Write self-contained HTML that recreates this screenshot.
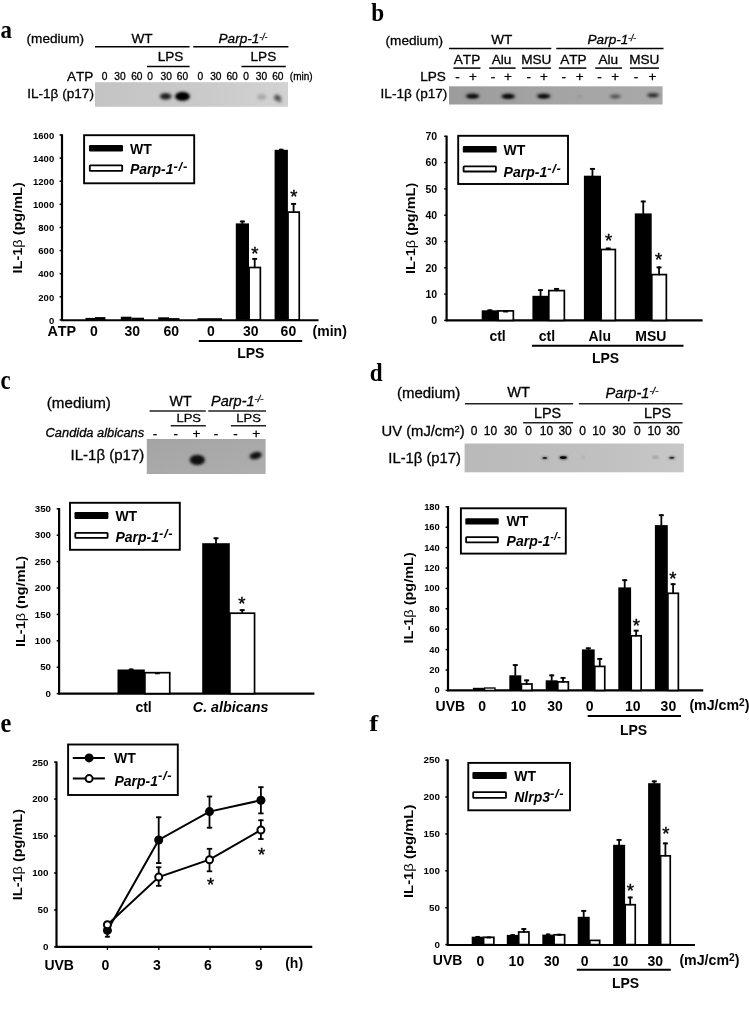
<!DOCTYPE html>
<html lang="en"><head><meta charset="utf-8"><title>Figure</title>
<style>
html,body{margin:0;padding:0;background:#fff;}
body{width:749px;height:1012px;overflow:hidden;}
svg{display:block;will-change:transform;font-family:"Liberation Sans",Arial,sans-serif;}
svg text{fill:#000;font-kerning:none;}
svg text.lab{font-family:"Liberation Serif","Times New Roman",serif;}
</style></head><body>
<svg width="749" height="1012" viewBox="0 0 749 1012">
<defs>
<filter id="b1" x="-50%" y="-50%" width="200%" height="200%"><feGaussianBlur stdDeviation="1.1"/></filter>
<filter id="b2" x="-50%" y="-50%" width="200%" height="200%"><feGaussianBlur stdDeviation="1.8"/></filter>
<linearGradient id="ga" x1="0" y1="0" x2="1" y2="0"><stop offset="0" stop-color="#c4c4c4"/><stop offset="0.5" stop-color="#c9c9c9"/><stop offset="1" stop-color="#d2d2d2"/></linearGradient>
<linearGradient id="gb" x1="0" y1="0" x2="1" y2="0"><stop offset="0" stop-color="#9c9c9c"/><stop offset="0.5" stop-color="#a4a4a4"/><stop offset="1" stop-color="#a9a9a9"/></linearGradient>
<linearGradient id="gc" x1="0" y1="0" x2="1" y2="1"><stop offset="0" stop-color="#a4a4a4"/><stop offset="1" stop-color="#aeaeae"/></linearGradient>
<linearGradient id="gd" x1="0" y1="0" x2="1" y2="0"><stop offset="0" stop-color="#b9b9b9"/><stop offset="0.6" stop-color="#c0c0c0"/><stop offset="1" stop-color="#c7c7c7"/></linearGradient>
<filter id="b0" x="-50%" y="-50%" width="200%" height="200%"><feGaussianBlur stdDeviation="0.6"/></filter>
</defs>
<rect x="0" y="0" width="749" height="1012" fill="#fff"/>

<text transform="translate(0.40,38.20) scale(0.88,1)" class="lab" style="font-size:26px;font-weight:bold;">a</text>
<text transform="translate(371.20,21.20) scale(0.96,1)" class="lab" style="font-size:24.2px;font-weight:bold;">b</text>
<text transform="translate(0.60,389.30) scale(0.86,1)" class="lab" style="font-size:26.5px;font-weight:bold;">c</text>
<text transform="translate(369.80,381.30) scale(0.94,1)" class="lab" style="font-size:24.6px;font-weight:bold;">d</text>
<text transform="translate(0.50,731.70) scale(0.92,1)" class="lab" style="font-size:26.6px;font-weight:bold;">e</text>
<text transform="translate(369.20,730.70) scale(1.14,1)" class="lab" style="font-size:23.7px;font-weight:bold;">f</text>
<g id="panel-a">
<text x="26.60" y="43.00" style="font-size:13.6px;"  stroke="#000" stroke-width="0.3">(medium)</text>
<text x="142.00" y="42.90" text-anchor="middle" style="font-size:13.6px;"  stroke="#000" stroke-width="0.3">WT</text>
<text x="243.00" y="43.00" text-anchor="middle" style="font-size:13.6px;font-style:italic;"  stroke="#000" stroke-width="0.3">Parp-1<tspan dy="-3.4" style="font-size:8.6px;">-/-</tspan></text>
<line x1="95.00" y1="46.80" x2="189.60" y2="46.80" stroke="#000" stroke-width="1.5" stroke-linecap="butt"/>
<line x1="193.20" y1="46.80" x2="288.40" y2="46.80" stroke="#000" stroke-width="1.5" stroke-linecap="butt"/>
<text x="170.60" y="61.30" text-anchor="middle" style="font-size:13.6px;"  stroke="#000" stroke-width="0.3">LPS</text>
<text x="263.40" y="61.30" text-anchor="middle" style="font-size:13.6px;"  stroke="#000" stroke-width="0.3">LPS</text>
<line x1="147.00" y1="66.50" x2="189.60" y2="66.50" stroke="#000" stroke-width="1.5" stroke-linecap="butt"/>
<line x1="241.50" y1="66.50" x2="285.80" y2="66.50" stroke="#000" stroke-width="1.5" stroke-linecap="butt"/>
<text x="93.40" y="80.60" text-anchor="end" style="font-size:13.6px;"  stroke="#000" stroke-width="0.3">ATP</text>
<text x="104.50" y="79.50" text-anchor="middle" style="font-size:10.2px;"  stroke="#000" stroke-width="0.3">0</text>
<text x="119.90" y="79.50" text-anchor="middle" style="font-size:10.2px;"  stroke="#000" stroke-width="0.3">30</text>
<text x="136.80" y="79.50" text-anchor="middle" style="font-size:10.2px;"  stroke="#000" stroke-width="0.3">60</text>
<text x="150.20" y="79.50" text-anchor="middle" style="font-size:10.2px;"  stroke="#000" stroke-width="0.3">0</text>
<text x="166.20" y="79.50" text-anchor="middle" style="font-size:10.2px;"  stroke="#000" stroke-width="0.3">30</text>
<text x="182.50" y="79.50" text-anchor="middle" style="font-size:10.2px;"  stroke="#000" stroke-width="0.3">60</text>
<text x="200.40" y="79.50" text-anchor="middle" style="font-size:10.2px;"  stroke="#000" stroke-width="0.3">0</text>
<text x="215.80" y="79.50" text-anchor="middle" style="font-size:10.2px;"  stroke="#000" stroke-width="0.3">30</text>
<text x="232.10" y="79.50" text-anchor="middle" style="font-size:10.2px;"  stroke="#000" stroke-width="0.3">60</text>
<text x="246.10" y="79.50" text-anchor="middle" style="font-size:10.2px;"  stroke="#000" stroke-width="0.3">0</text>
<text x="261.50" y="79.50" text-anchor="middle" style="font-size:10.2px;"  stroke="#000" stroke-width="0.3">30</text>
<text x="277.80" y="79.50" text-anchor="middle" style="font-size:10.2px;"  stroke="#000" stroke-width="0.3">60</text>
<text x="289.80" y="79.60" style="font-size:10px;"  stroke="#000" stroke-width="0.3">(min)</text>
<rect x="95.00" y="82.20" width="193.00" height="24.60" fill="url(#ga)" stroke="none" stroke-width="1" rx="0" />
<ellipse cx="165.70" cy="96.40" rx="6.00" ry="3.40" fill="#000" opacity="0.75" filter="url(#b2)"/>
<ellipse cx="165.50" cy="96.20" rx="3.40" ry="1.60" fill="#000" opacity="0.45" filter="url(#b1)"/>
<ellipse cx="182.50" cy="96.40" rx="7.40" ry="4.40" fill="#000" opacity="1.0" filter="url(#b2)"/>
<ellipse cx="182.50" cy="96.20" rx="5.60" ry="2.80" fill="#000" opacity="0.95" filter="url(#b1)"/>
<ellipse cx="261.60" cy="97.00" rx="4.40" ry="2.80" fill="#000" opacity="0.2" filter="url(#b2)"/>
<ellipse cx="277.60" cy="98.00" rx="3.80" ry="3.00" fill="#000" opacity="0.6" filter="url(#b2)" transform="rotate(30 277.6 98.0)"/>
<ellipse cx="280.20" cy="101.50" rx="2.20" ry="1.60" fill="#000" opacity="0.22" filter="url(#b2)"/>
<text x="27.20" y="98.00" style="font-size:13.6px;"  stroke="#000" stroke-width="0.3">IL-1β (p17)</text>
<line x1="62.00" y1="134.30" x2="62.00" y2="320.70" stroke="#000" stroke-width="2.2" stroke-linecap="butt"/>
<line x1="59.60" y1="135.00" x2="62.00" y2="135.00" stroke="#000" stroke-width="1.5" stroke-linecap="butt"/>
<text x="54.20" y="138.72" text-anchor="end" style="font-size:9.5px;font-weight:bold;" >1600</text>
<line x1="59.60" y1="158.11" x2="62.00" y2="158.11" stroke="#000" stroke-width="1.5" stroke-linecap="butt"/>
<text x="54.20" y="161.83" text-anchor="end" style="font-size:9.5px;font-weight:bold;" >1400</text>
<line x1="59.60" y1="181.22" x2="62.00" y2="181.22" stroke="#000" stroke-width="1.5" stroke-linecap="butt"/>
<text x="54.20" y="184.94" text-anchor="end" style="font-size:9.5px;font-weight:bold;" >1200</text>
<line x1="59.60" y1="204.34" x2="62.00" y2="204.34" stroke="#000" stroke-width="1.5" stroke-linecap="butt"/>
<text x="54.20" y="208.06" text-anchor="end" style="font-size:9.5px;font-weight:bold;" >1000</text>
<line x1="59.60" y1="227.45" x2="62.00" y2="227.45" stroke="#000" stroke-width="1.5" stroke-linecap="butt"/>
<text x="54.20" y="231.17" text-anchor="end" style="font-size:9.5px;font-weight:bold;" >800</text>
<line x1="59.60" y1="250.56" x2="62.00" y2="250.56" stroke="#000" stroke-width="1.5" stroke-linecap="butt"/>
<text x="54.20" y="254.28" text-anchor="end" style="font-size:9.5px;font-weight:bold;" >600</text>
<line x1="59.60" y1="273.67" x2="62.00" y2="273.67" stroke="#000" stroke-width="1.5" stroke-linecap="butt"/>
<text x="54.20" y="277.39" text-anchor="end" style="font-size:9.5px;font-weight:bold;" >400</text>
<line x1="59.60" y1="296.79" x2="62.00" y2="296.79" stroke="#000" stroke-width="1.5" stroke-linecap="butt"/>
<text x="54.20" y="300.51" text-anchor="end" style="font-size:9.5px;font-weight:bold;" >200</text>
<line x1="59.60" y1="319.90" x2="62.00" y2="319.90" stroke="#000" stroke-width="1.5" stroke-linecap="butt"/>
<text x="54.20" y="323.62" text-anchor="end" style="font-size:9.5px;font-weight:bold;" >0</text>
<line x1="61.20" y1="320.30" x2="318.60" y2="320.30" stroke="#000" stroke-width="2.1" stroke-linecap="butt"/>
<text transform="translate(22.00,273.40) rotate(-90) scale(1.115,1)" style="font-size:13px;font-weight:bold;">IL-1<tspan style="font-weight:normal">β</tspan> (pg/mL)</text>
<rect x="84.10" y="135.20" width="110.10" height="48.10" fill="#fff" stroke="#000" stroke-width="1.9" rx="0" />
<rect x="89.00" y="145.00" width="34.00" height="6.40" fill="#000" stroke="none" stroke-width="1" rx="1.2" />
<rect x="89.80" y="165.40" width="32.40" height="5.40" fill="#fff" stroke="#000" stroke-width="1.8" rx="0.6" />
<text x="130.00" y="153.50" style="font-size:14px;font-weight:bold;" >WT</text>
<text x="130.00" y="174.40" style="font-size:14px;font-weight:bold;font-style:italic;" >Parp-1<tspan dy="-3.6" style="font-size:13px;letter-spacing:0.7px;">-/-</tspan></text>
<rect x="85.50" y="317.90" width="9.50" height="2.00" fill="#000" stroke="none" stroke-width="1" rx="0" />
<rect x="95.00" y="317.10" width="10.40" height="2.80" fill="#000" stroke="none" stroke-width="1" rx="0" />
<rect x="120.80" y="316.70" width="10.70" height="3.20" fill="#000" stroke="none" stroke-width="1" rx="0" />
<rect x="131.50" y="317.70" width="12.50" height="2.20" fill="#000" stroke="none" stroke-width="1" rx="0" />
<rect x="158.20" y="317.30" width="10.80" height="2.60" fill="#000" stroke="none" stroke-width="1" rx="0" />
<rect x="169.00" y="318.10" width="10.50" height="1.80" fill="#000" stroke="none" stroke-width="1" rx="0" />
<rect x="197.50" y="318.20" width="24.50" height="1.70" fill="#000" stroke="none" stroke-width="1" rx="0" />
<rect x="235.80" y="223.40" width="13.20" height="96.50" fill="#000" stroke="none" stroke-width="1" rx="0" />
<line x1="242.40" y1="220.60" x2="242.40" y2="223.90" stroke="#000" stroke-width="1.8" stroke-linecap="butt"/>
<line x1="239.90" y1="221.50" x2="244.90" y2="221.50" stroke="#000" stroke-width="1.9" stroke-linecap="butt"/>
<rect x="249.10" y="267.50" width="11.25" height="52.40" fill="#fff" stroke="#000" stroke-width="1.7" rx="0" />
<line x1="254.70" y1="258.00" x2="254.70" y2="268.10" stroke="#000" stroke-width="1.8" stroke-linecap="butt"/>
<line x1="252.20" y1="258.90" x2="257.20" y2="258.90" stroke="#000" stroke-width="1.9" stroke-linecap="butt"/>
<rect x="274.60" y="149.80" width="13.30" height="170.10" fill="#000" stroke="none" stroke-width="1" rx="0" />
<line x1="281.25" y1="148.80" x2="281.25" y2="150.30" stroke="#000" stroke-width="1.8" stroke-linecap="butt"/>
<line x1="279.05" y1="149.70" x2="283.45" y2="149.70" stroke="#000" stroke-width="1.9" stroke-linecap="butt"/>
<rect x="288.00" y="212.10" width="11.25" height="107.80" fill="#fff" stroke="#000" stroke-width="1.7" rx="0" />
<line x1="293.60" y1="203.00" x2="293.60" y2="212.70" stroke="#000" stroke-width="1.8" stroke-linecap="butt"/>
<line x1="291.10" y1="203.90" x2="296.10" y2="203.90" stroke="#000" stroke-width="1.9" stroke-linecap="butt"/>
<text x="254.80" y="259.80" text-anchor="middle" style="font-size:18.5px;" stroke="#000" stroke-width="0.4">*</text>
<text x="293.80" y="202.51" text-anchor="middle" style="font-size:18.5px;" stroke="#000" stroke-width="0.4">*</text>
<text x="47.40" y="335.90" style="font-size:14.4px;font-weight:bold;" >ATP</text>
<text x="94.00" y="336.00" text-anchor="middle" style="font-size:14px;font-weight:bold;" >0</text>
<text x="132.30" y="336.00" text-anchor="middle" style="font-size:14px;font-weight:bold;" >30</text>
<text x="171.20" y="336.00" text-anchor="middle" style="font-size:14px;font-weight:bold;" >60</text>
<text x="210.90" y="336.00" text-anchor="middle" style="font-size:14px;font-weight:bold;" >0</text>
<text x="250.80" y="336.00" text-anchor="middle" style="font-size:14px;font-weight:bold;" >30</text>
<text x="288.40" y="336.00" text-anchor="middle" style="font-size:14px;font-weight:bold;" >60</text>
<text x="312.60" y="336.00" style="font-size:14px;font-weight:bold;" >(min)</text>
<line x1="198.80" y1="340.90" x2="302.20" y2="340.90" stroke="#000" stroke-width="2.0" stroke-linecap="butt"/>
<text x="250.80" y="357.60" text-anchor="middle" style="font-size:14px;font-weight:bold;" >LPS</text>
</g>
<g id="panel-b">
<text x="385.60" y="44.50" style="font-size:13.6px;"  stroke="#000" stroke-width="0.3">(medium)</text>
<text x="501.80" y="43.80" text-anchor="middle" style="font-size:13.6px;"  stroke="#000" stroke-width="0.3">WT</text>
<text x="611.80" y="44.00" text-anchor="middle" style="font-size:13.6px;font-style:italic;"  stroke="#000" stroke-width="0.3">Parp-1<tspan dy="-3.2" style="font-size:8.2px;">-/-</tspan></text>
<line x1="449.00" y1="48.60" x2="551.30" y2="48.60" stroke="#000" stroke-width="1.5" stroke-linecap="butt"/>
<line x1="556.30" y1="48.60" x2="663.50" y2="48.60" stroke="#000" stroke-width="1.5" stroke-linecap="butt"/>
<text x="467.00" y="64.10" text-anchor="middle" style="font-size:13.6px;"  stroke="#000" stroke-width="0.3">ATP</text>
<line x1="453.40" y1="68.10" x2="480.50" y2="68.10" stroke="#000" stroke-width="1.5" stroke-linecap="butt"/>
<text x="501.60" y="64.10" text-anchor="middle" style="font-size:13.6px;"  stroke="#000" stroke-width="0.3">Alu</text>
<line x1="489.20" y1="68.10" x2="515.60" y2="68.10" stroke="#000" stroke-width="1.5" stroke-linecap="butt"/>
<text x="536.30" y="64.10" text-anchor="middle" style="font-size:13.6px;"  stroke="#000" stroke-width="0.3">MSU</text>
<line x1="521.90" y1="68.10" x2="550.90" y2="68.10" stroke="#000" stroke-width="1.5" stroke-linecap="butt"/>
<text x="573.40" y="64.10" text-anchor="middle" style="font-size:13.6px;"  stroke="#000" stroke-width="0.3">ATP</text>
<line x1="558.80" y1="68.10" x2="586.40" y2="68.10" stroke="#000" stroke-width="1.5" stroke-linecap="butt"/>
<text x="608.30" y="64.10" text-anchor="middle" style="font-size:13.6px;"  stroke="#000" stroke-width="0.3">Alu</text>
<line x1="595.20" y1="68.10" x2="622.00" y2="68.10" stroke="#000" stroke-width="1.5" stroke-linecap="butt"/>
<text x="644.30" y="64.10" text-anchor="middle" style="font-size:13.6px;"  stroke="#000" stroke-width="0.3">MSU</text>
<line x1="629.90" y1="68.10" x2="658.90" y2="68.10" stroke="#000" stroke-width="1.5" stroke-linecap="butt"/>
<text x="445.90" y="80.90" text-anchor="end" style="font-size:13.6px;"  stroke="#000" stroke-width="0.3">LPS</text>
<text x="457.40" y="81.10" text-anchor="middle" style="font-size:13.5px;"  stroke="#000" stroke-width="0.3">-</text>
<text x="472.90" y="81.10" text-anchor="middle" style="font-size:13.5px;"  stroke="#000" stroke-width="0.3">+</text>
<text x="493.00" y="81.10" text-anchor="middle" style="font-size:13.5px;"  stroke="#000" stroke-width="0.3">-</text>
<text x="508.00" y="81.10" text-anchor="middle" style="font-size:13.5px;"  stroke="#000" stroke-width="0.3">+</text>
<text x="528.70" y="81.10" text-anchor="middle" style="font-size:13.5px;"  stroke="#000" stroke-width="0.3">-</text>
<text x="544.00" y="81.10" text-anchor="middle" style="font-size:13.5px;"  stroke="#000" stroke-width="0.3">+</text>
<text x="563.80" y="81.10" text-anchor="middle" style="font-size:13.5px;"  stroke="#000" stroke-width="0.3">-</text>
<text x="579.70" y="81.10" text-anchor="middle" style="font-size:13.5px;"  stroke="#000" stroke-width="0.3">+</text>
<text x="599.50" y="81.10" text-anchor="middle" style="font-size:13.5px;"  stroke="#000" stroke-width="0.3">-</text>
<text x="615.30" y="81.10" text-anchor="middle" style="font-size:13.5px;"  stroke="#000" stroke-width="0.3">+</text>
<text x="636.10" y="81.10" text-anchor="middle" style="font-size:13.5px;"  stroke="#000" stroke-width="0.3">-</text>
<text x="652.40" y="81.10" text-anchor="middle" style="font-size:13.5px;"  stroke="#000" stroke-width="0.3">+</text>
<rect x="449.00" y="86.30" width="213.60" height="18.20" fill="url(#gb)" stroke="none" stroke-width="1" rx="0" />
<ellipse cx="472.60" cy="96.00" rx="7.40" ry="2.80" fill="#000" opacity="0.55" filter="url(#b2)"/>
<ellipse cx="472.60" cy="96.20" rx="5.60" ry="1.80" fill="#000" opacity="0.9" filter="url(#b1)"/>
<ellipse cx="508.20" cy="96.20" rx="7.40" ry="2.80" fill="#000" opacity="0.6" filter="url(#b2)"/>
<ellipse cx="508.20" cy="96.40" rx="5.60" ry="1.80" fill="#000" opacity="0.92" filter="url(#b1)"/>
<ellipse cx="543.70" cy="96.00" rx="7.40" ry="2.80" fill="#000" opacity="0.55" filter="url(#b2)"/>
<ellipse cx="543.70" cy="96.20" rx="5.60" ry="1.80" fill="#000" opacity="0.9" filter="url(#b1)"/>
<ellipse cx="579.70" cy="96.40" rx="4.00" ry="1.50" fill="#000" opacity="0.07" filter="url(#b1)"/>
<ellipse cx="615.30" cy="96.40" rx="6.00" ry="2.40" fill="#000" opacity="0.3" filter="url(#b2)"/>
<ellipse cx="615.30" cy="96.60" rx="4.40" ry="1.40" fill="#000" opacity="0.3" filter="url(#b1)"/>
<ellipse cx="653.00" cy="95.20" rx="6.40" ry="2.60" fill="#000" opacity="0.42" filter="url(#b2)"/>
<ellipse cx="653.00" cy="95.20" rx="4.60" ry="1.50" fill="#000" opacity="0.55" filter="url(#b1)"/>
<text x="380.60" y="98.40" style="font-size:13.6px;"  stroke="#000" stroke-width="0.3">IL-1β (p17)</text>
<line x1="446.60" y1="135.60" x2="446.60" y2="321.20" stroke="#000" stroke-width="2.2" stroke-linecap="butt"/>
<line x1="444.20" y1="136.30" x2="446.60" y2="136.30" stroke="#000" stroke-width="1.5" stroke-linecap="butt"/>
<text x="437.20" y="140.18" text-anchor="end" style="font-size:10.5px;font-weight:bold;" >70</text>
<line x1="444.20" y1="162.60" x2="446.60" y2="162.60" stroke="#000" stroke-width="1.5" stroke-linecap="butt"/>
<text x="437.20" y="166.48" text-anchor="end" style="font-size:10.5px;font-weight:bold;" >60</text>
<line x1="444.20" y1="188.90" x2="446.60" y2="188.90" stroke="#000" stroke-width="1.5" stroke-linecap="butt"/>
<text x="437.20" y="192.78" text-anchor="end" style="font-size:10.5px;font-weight:bold;" >50</text>
<line x1="444.20" y1="215.20" x2="446.60" y2="215.20" stroke="#000" stroke-width="1.5" stroke-linecap="butt"/>
<text x="437.20" y="219.08" text-anchor="end" style="font-size:10.5px;font-weight:bold;" >40</text>
<line x1="444.20" y1="241.50" x2="446.60" y2="241.50" stroke="#000" stroke-width="1.5" stroke-linecap="butt"/>
<text x="437.20" y="245.38" text-anchor="end" style="font-size:10.5px;font-weight:bold;" >30</text>
<line x1="444.20" y1="267.80" x2="446.60" y2="267.80" stroke="#000" stroke-width="1.5" stroke-linecap="butt"/>
<text x="437.20" y="271.68" text-anchor="end" style="font-size:10.5px;font-weight:bold;" >20</text>
<line x1="444.20" y1="294.10" x2="446.60" y2="294.10" stroke="#000" stroke-width="1.5" stroke-linecap="butt"/>
<text x="437.20" y="297.98" text-anchor="end" style="font-size:10.5px;font-weight:bold;" >10</text>
<line x1="444.20" y1="320.40" x2="446.60" y2="320.40" stroke="#000" stroke-width="1.5" stroke-linecap="butt"/>
<text x="437.20" y="324.28" text-anchor="end" style="font-size:10.5px;font-weight:bold;" >0</text>
<line x1="445.80" y1="320.40" x2="702.60" y2="320.40" stroke="#000" stroke-width="2.1" stroke-linecap="butt"/>
<text transform="translate(414.70,273.90) rotate(-90) scale(1.115,1)" style="font-size:13px;font-weight:bold;">IL-1<tspan style="font-weight:normal">β</tspan> (pg/mL)</text>
<rect x="458.20" y="135.80" width="109.80" height="48.20" fill="#fff" stroke="#000" stroke-width="1.9" rx="0" />
<rect x="462.80" y="145.90" width="33.90" height="6.70" fill="#000" stroke="none" stroke-width="1" rx="1.2" />
<rect x="463.60" y="166.30" width="32.30" height="5.20" fill="#fff" stroke="#000" stroke-width="1.8" rx="0.6" />
<text x="503.60" y="154.50" style="font-size:14px;font-weight:bold;" >WT</text>
<text x="503.60" y="176.60" style="font-size:14px;font-weight:bold;font-style:italic;" >Parp-1<tspan dy="-3.6" style="font-size:13px;letter-spacing:0.7px;">-/-</tspan></text>
<rect x="481.70" y="310.30" width="16.30" height="10.10" fill="#000" stroke="none" stroke-width="1" rx="0" />
<line x1="489.85" y1="309.40" x2="489.85" y2="310.80" stroke="#000" stroke-width="1.8" stroke-linecap="butt"/>
<line x1="487.35" y1="310.30" x2="492.35" y2="310.30" stroke="#000" stroke-width="1.9" stroke-linecap="butt"/>
<rect x="498.10" y="310.90" width="15.25" height="9.50" fill="#fff" stroke="#000" stroke-width="1.7" rx="0" />
<line x1="505.70" y1="310.60" x2="505.70" y2="311.50" stroke="#000" stroke-width="1.8" stroke-linecap="butt"/>
<line x1="503.20" y1="311.50" x2="508.20" y2="311.50" stroke="#000" stroke-width="1.9" stroke-linecap="butt"/>
<rect x="532.40" y="295.80" width="16.30" height="24.60" fill="#000" stroke="none" stroke-width="1" rx="0" />
<line x1="540.55" y1="289.20" x2="540.55" y2="296.30" stroke="#000" stroke-width="1.8" stroke-linecap="butt"/>
<line x1="538.05" y1="290.10" x2="543.05" y2="290.10" stroke="#000" stroke-width="1.9" stroke-linecap="butt"/>
<rect x="548.80" y="290.60" width="15.55" height="29.80" fill="#fff" stroke="#000" stroke-width="1.7" rx="0" />
<line x1="556.55" y1="288.00" x2="556.55" y2="291.20" stroke="#000" stroke-width="1.8" stroke-linecap="butt"/>
<line x1="554.05" y1="288.90" x2="559.05" y2="288.90" stroke="#000" stroke-width="1.9" stroke-linecap="butt"/>
<rect x="583.90" y="175.70" width="17.10" height="144.70" fill="#000" stroke="none" stroke-width="1" rx="0" />
<line x1="592.45" y1="168.00" x2="592.45" y2="176.20" stroke="#000" stroke-width="1.8" stroke-linecap="butt"/>
<line x1="589.95" y1="168.90" x2="594.95" y2="168.90" stroke="#000" stroke-width="1.9" stroke-linecap="butt"/>
<rect x="601.10" y="249.50" width="14.25" height="70.90" fill="#fff" stroke="#000" stroke-width="1.7" rx="0" />
<line x1="608.20" y1="247.60" x2="608.20" y2="250.10" stroke="#000" stroke-width="1.8" stroke-linecap="butt"/>
<line x1="605.70" y1="248.50" x2="610.70" y2="248.50" stroke="#000" stroke-width="1.9" stroke-linecap="butt"/>
<rect x="634.80" y="213.40" width="16.90" height="107.00" fill="#000" stroke="none" stroke-width="1" rx="0" />
<line x1="643.25" y1="200.60" x2="643.25" y2="213.90" stroke="#000" stroke-width="1.8" stroke-linecap="butt"/>
<line x1="640.75" y1="201.50" x2="645.75" y2="201.50" stroke="#000" stroke-width="1.9" stroke-linecap="butt"/>
<rect x="651.80" y="274.60" width="14.55" height="45.80" fill="#fff" stroke="#000" stroke-width="1.7" rx="0" />
<line x1="659.05" y1="266.50" x2="659.05" y2="275.20" stroke="#000" stroke-width="1.8" stroke-linecap="butt"/>
<line x1="656.55" y1="267.40" x2="661.55" y2="267.40" stroke="#000" stroke-width="1.9" stroke-linecap="butt"/>
<text x="608.50" y="246.71" text-anchor="middle" style="font-size:18.5px;" stroke="#000" stroke-width="0.4">*</text>
<text x="658.70" y="266.20" text-anchor="middle" style="font-size:18.5px;" stroke="#000" stroke-width="0.4">*</text>
<text x="497.60" y="341.00" text-anchor="middle" style="font-size:14px;font-weight:bold;" >ctl</text>
<text x="547.00" y="341.00" text-anchor="middle" style="font-size:14px;font-weight:bold;" >ctl</text>
<text x="599.70" y="341.00" text-anchor="middle" style="font-size:14px;font-weight:bold;" >Alu</text>
<text x="650.90" y="341.00" text-anchor="middle" style="font-size:14px;font-weight:bold;" >MSU</text>
<line x1="531.90" y1="345.80" x2="683.50" y2="345.80" stroke="#000" stroke-width="2.0" stroke-linecap="butt"/>
<text x="605.60" y="363.00" text-anchor="middle" style="font-size:14px;font-weight:bold;" >LPS</text>
</g>
<g id="panel-c">
<text x="46.80" y="407.50" style="font-size:15.2px;"  stroke="#000" stroke-width="0.3">(medium)</text>
<text x="180.60" y="406.30" text-anchor="middle" style="font-size:14.2px;"  stroke="#000" stroke-width="0.3">WT</text>
<text x="211.00" y="406.30" style="font-size:14.5px;font-style:italic;"  stroke="#000" stroke-width="0.3">Parp-1<tspan dy="-4.6" style="font-size:9.5px;">-/-</tspan></text>
<line x1="149.60" y1="410.90" x2="205.80" y2="410.90" stroke="#222" stroke-width="1.5" stroke-linecap="butt"/>
<line x1="208.30" y1="410.90" x2="266.00" y2="410.90" stroke="#222" stroke-width="1.5" stroke-linecap="butt"/>
<text x="188.70" y="422.40" text-anchor="middle" style="font-size:13px;"  transform="translate(0 422.40) scale(1 0.86) translate(0 -422.40)" stroke="#000" stroke-width="0.3">LPS</text>
<text x="248.60" y="422.40" text-anchor="middle" style="font-size:13px;"  transform="translate(0 422.40) scale(1 0.86) translate(0 -422.40)" stroke="#000" stroke-width="0.3">LPS</text>
<line x1="170.70" y1="425.70" x2="205.80" y2="425.70" stroke="#222" stroke-width="1.5" stroke-linecap="butt"/>
<line x1="230.90" y1="425.70" x2="266.00" y2="425.70" stroke="#222" stroke-width="1.5" stroke-linecap="butt"/>
<text x="45.60" y="436.80" style="font-size:12.85px;font-style:italic;"  stroke="#000" stroke-width="0.3">Candida albicans</text>
<text x="155.00" y="437.80" text-anchor="middle" style="font-size:13.5px;"  stroke="#000" stroke-width="0.3">-</text>
<text x="175.70" y="437.80" text-anchor="middle" style="font-size:13.5px;"  stroke="#000" stroke-width="0.3">-</text>
<text x="196.50" y="437.80" text-anchor="middle" style="font-size:13.5px;"  stroke="#000" stroke-width="0.3">+</text>
<text x="216.00" y="437.80" text-anchor="middle" style="font-size:13.5px;"  stroke="#000" stroke-width="0.3">-</text>
<text x="235.40" y="437.80" text-anchor="middle" style="font-size:13.5px;"  stroke="#000" stroke-width="0.3">-</text>
<text x="256.30" y="437.80" text-anchor="middle" style="font-size:13.5px;"  stroke="#000" stroke-width="0.3">+</text>
<rect x="146.80" y="439.00" width="118.80" height="35.00" fill="url(#gc)" stroke="none" stroke-width="1" rx="0" />
<ellipse cx="197.30" cy="460.00" rx="7.60" ry="5.00" fill="#111" opacity="0.95" filter="url(#b2)"/>
<ellipse cx="197.30" cy="460.00" rx="6.00" ry="3.40" fill="#111" opacity="0.9" filter="url(#b1)"/>
<ellipse cx="255.70" cy="455.60" rx="6.20" ry="3.40" fill="#111" opacity="0.9" filter="url(#b2)" transform="rotate(-14 255.7 455.6)"/>
<ellipse cx="255.70" cy="455.60" rx="4.60" ry="2.20" fill="#111" opacity="0.85" filter="url(#b1)" transform="rotate(-14 255.7 455.6)"/>
<text x="70.60" y="460.20" style="font-size:15px;"  stroke="#000" stroke-width="0.3">IL-1β (p17)</text>
<line x1="59.10" y1="508.10" x2="59.10" y2="694.40" stroke="#000" stroke-width="2.2" stroke-linecap="butt"/>
<line x1="56.70" y1="508.80" x2="59.10" y2="508.80" stroke="#000" stroke-width="1.5" stroke-linecap="butt"/>
<text x="51.00" y="512.09" text-anchor="end" style="font-size:9.7px;font-weight:bold;" >350</text>
<line x1="56.70" y1="535.20" x2="59.10" y2="535.20" stroke="#000" stroke-width="1.5" stroke-linecap="butt"/>
<text x="51.00" y="538.49" text-anchor="end" style="font-size:9.7px;font-weight:bold;" >300</text>
<line x1="56.70" y1="561.60" x2="59.10" y2="561.60" stroke="#000" stroke-width="1.5" stroke-linecap="butt"/>
<text x="51.00" y="564.89" text-anchor="end" style="font-size:9.7px;font-weight:bold;" >250</text>
<line x1="56.70" y1="588.00" x2="59.10" y2="588.00" stroke="#000" stroke-width="1.5" stroke-linecap="butt"/>
<text x="51.00" y="591.29" text-anchor="end" style="font-size:9.7px;font-weight:bold;" >200</text>
<line x1="56.70" y1="614.40" x2="59.10" y2="614.40" stroke="#000" stroke-width="1.5" stroke-linecap="butt"/>
<text x="51.00" y="617.69" text-anchor="end" style="font-size:9.7px;font-weight:bold;" >150</text>
<line x1="56.70" y1="640.80" x2="59.10" y2="640.80" stroke="#000" stroke-width="1.5" stroke-linecap="butt"/>
<text x="51.00" y="644.09" text-anchor="end" style="font-size:9.7px;font-weight:bold;" >100</text>
<line x1="56.70" y1="667.20" x2="59.10" y2="667.20" stroke="#000" stroke-width="1.5" stroke-linecap="butt"/>
<text x="51.00" y="670.49" text-anchor="end" style="font-size:9.7px;font-weight:bold;" >50</text>
<line x1="56.70" y1="693.60" x2="59.10" y2="693.60" stroke="#000" stroke-width="1.5" stroke-linecap="butt"/>
<text x="51.00" y="696.89" text-anchor="end" style="font-size:9.7px;font-weight:bold;" >0</text>
<line x1="58.30" y1="693.60" x2="314.40" y2="693.60" stroke="#000" stroke-width="2.1" stroke-linecap="butt"/>
<text transform="translate(24.80,647.00) rotate(-90) scale(1.115,1)" style="font-size:13px;font-weight:bold;">IL-1<tspan style="font-weight:normal">β</tspan> (ng/mL)</text>
<rect x="70.00" y="502.80" width="109.80" height="47.00" fill="#fff" stroke="#000" stroke-width="1.9" rx="0" />
<rect x="74.50" y="512.10" width="33.90" height="6.80" fill="#000" stroke="none" stroke-width="1" rx="1.2" />
<rect x="75.30" y="532.80" width="32.30" height="5.00" fill="#fff" stroke="#000" stroke-width="1.8" rx="0.6" />
<text x="115.40" y="520.60" style="font-size:14px;font-weight:bold;" >WT</text>
<text x="115.40" y="541.60" style="font-size:14px;font-weight:bold;font-style:italic;" >Parp-1<tspan dy="-3.6" style="font-size:13px;letter-spacing:0.7px;">-/-</tspan></text>
<rect x="117.50" y="669.50" width="27.30" height="24.10" fill="#000" stroke="none" stroke-width="1" rx="0" />
<line x1="131.15" y1="668.60" x2="131.15" y2="670.00" stroke="#000" stroke-width="1.8" stroke-linecap="butt"/>
<line x1="128.75" y1="669.50" x2="133.55" y2="669.50" stroke="#000" stroke-width="1.9" stroke-linecap="butt"/>
<rect x="144.90" y="672.70" width="24.85" height="20.90" fill="#fff" stroke="#000" stroke-width="1.7" rx="0" />
<line x1="157.30" y1="672.40" x2="157.30" y2="673.30" stroke="#000" stroke-width="1.8" stroke-linecap="butt"/>
<line x1="154.90" y1="673.30" x2="159.70" y2="673.30" stroke="#000" stroke-width="1.9" stroke-linecap="butt"/>
<rect x="202.20" y="543.20" width="27.60" height="150.40" fill="#000" stroke="none" stroke-width="1" rx="0" />
<line x1="216.00" y1="537.40" x2="216.00" y2="543.70" stroke="#000" stroke-width="1.8" stroke-linecap="butt"/>
<line x1="213.50" y1="538.30" x2="218.50" y2="538.30" stroke="#000" stroke-width="1.9" stroke-linecap="butt"/>
<rect x="229.90" y="613.20" width="24.65" height="80.40" fill="#fff" stroke="#000" stroke-width="1.7" rx="0" />
<line x1="242.20" y1="609.20" x2="242.20" y2="613.80" stroke="#000" stroke-width="1.8" stroke-linecap="butt"/>
<line x1="239.70" y1="610.10" x2="244.70" y2="610.10" stroke="#000" stroke-width="1.9" stroke-linecap="butt"/>
<text x="241.90" y="609.60" text-anchor="middle" style="font-size:18.5px;" stroke="#000" stroke-width="0.4">*</text>
<text x="143.60" y="712.00" text-anchor="middle" style="font-size:14px;font-weight:bold;" >ctl</text>
<text x="230.60" y="711.90" text-anchor="middle" style="font-size:14.3px;font-weight:bold;font-style:italic;" >C. albicans</text>
</g>
<g id="panel-d">
<text x="396.90" y="397.60" style="font-size:15px;"  stroke="#000" stroke-width="0.3">(medium)</text>
<text x="518.70" y="397.40" text-anchor="middle" style="font-size:14.6px;"  stroke="#000" stroke-width="0.3">WT</text>
<text x="632.00" y="398.20" text-anchor="middle" style="font-size:14.6px;font-style:italic;"  stroke="#000" stroke-width="0.3">Parp-1<tspan dy="-4.2" style="font-size:9.5px;">-/-</tspan></text>
<line x1="464.90" y1="403.80" x2="573.10" y2="403.80" stroke="#222" stroke-width="1.5" stroke-linecap="butt"/>
<line x1="578.90" y1="403.80" x2="682.60" y2="403.80" stroke="#222" stroke-width="1.5" stroke-linecap="butt"/>
<text x="547.50" y="418.40" text-anchor="middle" style="font-size:14.4px;"  stroke="#000" stroke-width="0.3">LPS</text>
<text x="657.60" y="418.40" text-anchor="middle" style="font-size:14.4px;"  stroke="#000" stroke-width="0.3">LPS</text>
<line x1="523.10" y1="422.70" x2="573.10" y2="422.70" stroke="#222" stroke-width="1.5" stroke-linecap="butt"/>
<line x1="633.40" y1="422.70" x2="682.60" y2="422.70" stroke="#222" stroke-width="1.5" stroke-linecap="butt"/>
<text x="381.60" y="436.20" style="font-size:14.75px;"  stroke="#000" stroke-width="0.3">UV (mJ/cm<tspan dy="-4.6" style="font-size:9.3px">2</tspan><tspan dy="4.6">)</tspan></text>
<text x="474.20" y="435.20" text-anchor="middle" style="font-size:12px;"  stroke="#000" stroke-width="0.3">0</text>
<text x="490.50" y="435.20" text-anchor="middle" style="font-size:12px;"  stroke="#000" stroke-width="0.3">10</text>
<text x="510.60" y="435.20" text-anchor="middle" style="font-size:12px;"  stroke="#000" stroke-width="0.3">30</text>
<text x="528.70" y="435.20" text-anchor="middle" style="font-size:12px;"  stroke="#000" stroke-width="0.3">0</text>
<text x="546.40" y="435.20" text-anchor="middle" style="font-size:12px;"  stroke="#000" stroke-width="0.3">10</text>
<text x="565.10" y="435.20" text-anchor="middle" style="font-size:12px;"  stroke="#000" stroke-width="0.3">30</text>
<text x="582.70" y="435.20" text-anchor="middle" style="font-size:12px;"  stroke="#000" stroke-width="0.3">0</text>
<text x="599.00" y="435.20" text-anchor="middle" style="font-size:12px;"  stroke="#000" stroke-width="0.3">10</text>
<text x="619.00" y="435.20" text-anchor="middle" style="font-size:12px;"  stroke="#000" stroke-width="0.3">30</text>
<text x="637.40" y="435.20" text-anchor="middle" style="font-size:12px;"  stroke="#000" stroke-width="0.3">0</text>
<text x="654.20" y="435.20" text-anchor="middle" style="font-size:12px;"  stroke="#000" stroke-width="0.3">10</text>
<text x="673.00" y="435.20" text-anchor="middle" style="font-size:12px;"  stroke="#000" stroke-width="0.3">30</text>
<rect x="464.60" y="443.50" width="219.20" height="28.80" fill="url(#gd)" stroke="none" stroke-width="1" rx="0" />
<ellipse cx="544.80" cy="458.00" rx="3.40" ry="1.60" fill="#000" opacity="0.35" filter="url(#b1)"/>
<ellipse cx="544.80" cy="458.00" rx="2.40" ry="1.00" fill="#000" opacity="0.75" filter="url(#b0)"/>
<ellipse cx="563.30" cy="457.60" rx="4.60" ry="2.20" fill="#000" opacity="0.45" filter="url(#b1)"/>
<ellipse cx="563.30" cy="457.60" rx="3.50" ry="1.40" fill="#000" opacity="1.0" filter="url(#b0)"/>
<ellipse cx="583.50" cy="457.60" rx="1.60" ry="1.40" fill="#000" opacity="0.12" filter="url(#b1)"/>
<ellipse cx="655.50" cy="457.20" rx="3.20" ry="1.40" fill="#000" opacity="0.2" filter="url(#b1)"/>
<ellipse cx="671.80" cy="457.80" rx="3.60" ry="1.70" fill="#000" opacity="0.35" filter="url(#b1)"/>
<ellipse cx="671.80" cy="457.80" rx="2.60" ry="1.10" fill="#000" opacity="0.6" filter="url(#b0)"/>
<text x="388.30" y="463.10" style="font-size:14.8px;"  stroke="#000" stroke-width="0.3">IL-1β (p17)</text>
<line x1="448.00" y1="506.10" x2="448.00" y2="691.20" stroke="#000" stroke-width="2.2" stroke-linecap="butt"/>
<line x1="445.60" y1="506.80" x2="448.00" y2="506.80" stroke="#000" stroke-width="1.5" stroke-linecap="butt"/>
<text x="439.80" y="509.78" text-anchor="end" style="font-size:9.4px;font-weight:bold;" >180</text>
<line x1="445.60" y1="527.20" x2="448.00" y2="527.20" stroke="#000" stroke-width="1.5" stroke-linecap="butt"/>
<text x="439.80" y="530.18" text-anchor="end" style="font-size:9.4px;font-weight:bold;" >160</text>
<line x1="445.60" y1="547.60" x2="448.00" y2="547.60" stroke="#000" stroke-width="1.5" stroke-linecap="butt"/>
<text x="439.80" y="550.58" text-anchor="end" style="font-size:9.4px;font-weight:bold;" >140</text>
<line x1="445.60" y1="568.00" x2="448.00" y2="568.00" stroke="#000" stroke-width="1.5" stroke-linecap="butt"/>
<text x="439.80" y="570.98" text-anchor="end" style="font-size:9.4px;font-weight:bold;" >120</text>
<line x1="445.60" y1="588.40" x2="448.00" y2="588.40" stroke="#000" stroke-width="1.5" stroke-linecap="butt"/>
<text x="439.80" y="591.38" text-anchor="end" style="font-size:9.4px;font-weight:bold;" >100</text>
<line x1="445.60" y1="608.80" x2="448.00" y2="608.80" stroke="#000" stroke-width="1.5" stroke-linecap="butt"/>
<text x="439.80" y="611.78" text-anchor="end" style="font-size:9.4px;font-weight:bold;" >80</text>
<line x1="445.60" y1="629.20" x2="448.00" y2="629.20" stroke="#000" stroke-width="1.5" stroke-linecap="butt"/>
<text x="439.80" y="632.18" text-anchor="end" style="font-size:9.4px;font-weight:bold;" >60</text>
<line x1="445.60" y1="649.60" x2="448.00" y2="649.60" stroke="#000" stroke-width="1.5" stroke-linecap="butt"/>
<text x="439.80" y="652.58" text-anchor="end" style="font-size:9.4px;font-weight:bold;" >40</text>
<line x1="445.60" y1="670.00" x2="448.00" y2="670.00" stroke="#000" stroke-width="1.5" stroke-linecap="butt"/>
<text x="439.80" y="672.98" text-anchor="end" style="font-size:9.4px;font-weight:bold;" >20</text>
<line x1="445.60" y1="690.40" x2="448.00" y2="690.40" stroke="#000" stroke-width="1.5" stroke-linecap="butt"/>
<text x="439.80" y="693.38" text-anchor="end" style="font-size:9.4px;font-weight:bold;" >0</text>
<line x1="447.20" y1="690.40" x2="703.20" y2="690.40" stroke="#000" stroke-width="2.1" stroke-linecap="butt"/>
<text transform="translate(412.70,643.40) rotate(-90) scale(1.115,1)" style="font-size:13px;font-weight:bold;">IL-1<tspan style="font-weight:normal">β</tspan> (pg/mL)</text>
<rect x="460.90" y="508.30" width="104.90" height="45.30" fill="#fff" stroke="#000" stroke-width="1.9" rx="0" />
<rect x="465.30" y="518.30" width="33.40" height="6.30" fill="#000" stroke="none" stroke-width="1" rx="1.2" />
<rect x="466.10" y="537.20" width="31.80" height="5.20" fill="#fff" stroke="#000" stroke-width="1.8" rx="0.6" />
<text x="506.60" y="525.90" style="font-size:14px;font-weight:bold;" >WT</text>
<text x="506.60" y="545.80" style="font-size:14px;font-weight:bold;font-style:italic;" >Parp-1<tspan dy="-5.8" style="font-size:10.5px;letter-spacing:0.3px;">-/-</tspan></text>
<rect x="472.90" y="687.80" width="11.30" height="2.60" fill="#000" stroke="none" stroke-width="1" rx="0" />
<rect x="484.60" y="688.00" width="10.40" height="2.40" fill="#fff" stroke="#000" stroke-width="1.3" rx="0" />
<rect x="509.30" y="675.30" width="12.00" height="15.10" fill="#000" stroke="none" stroke-width="1" rx="0" />
<line x1="515.30" y1="664.20" x2="515.30" y2="675.80" stroke="#000" stroke-width="1.8" stroke-linecap="butt"/>
<line x1="512.80" y1="665.10" x2="517.80" y2="665.10" stroke="#000" stroke-width="1.9" stroke-linecap="butt"/>
<rect x="521.40" y="684.00" width="10.55" height="6.40" fill="#fff" stroke="#000" stroke-width="1.7" rx="0" />
<line x1="526.65" y1="679.50" x2="526.65" y2="684.60" stroke="#000" stroke-width="1.8" stroke-linecap="butt"/>
<line x1="524.15" y1="680.40" x2="529.15" y2="680.40" stroke="#000" stroke-width="1.9" stroke-linecap="butt"/>
<rect x="545.70" y="680.30" width="12.00" height="10.10" fill="#000" stroke="none" stroke-width="1" rx="0" />
<line x1="551.70" y1="674.50" x2="551.70" y2="680.80" stroke="#000" stroke-width="1.8" stroke-linecap="butt"/>
<line x1="549.20" y1="675.40" x2="554.20" y2="675.40" stroke="#000" stroke-width="1.9" stroke-linecap="butt"/>
<rect x="557.80" y="681.90" width="10.55" height="8.50" fill="#fff" stroke="#000" stroke-width="1.7" rx="0" />
<line x1="563.05" y1="677.00" x2="563.05" y2="682.50" stroke="#000" stroke-width="1.8" stroke-linecap="butt"/>
<line x1="560.55" y1="677.90" x2="565.55" y2="677.90" stroke="#000" stroke-width="1.9" stroke-linecap="butt"/>
<rect x="581.90" y="649.40" width="12.80" height="41.00" fill="#000" stroke="none" stroke-width="1" rx="0" />
<line x1="588.30" y1="647.40" x2="588.30" y2="649.90" stroke="#000" stroke-width="1.8" stroke-linecap="butt"/>
<line x1="585.80" y1="648.30" x2="590.80" y2="648.30" stroke="#000" stroke-width="1.9" stroke-linecap="butt"/>
<rect x="594.80" y="666.40" width="9.95" height="24.00" fill="#fff" stroke="#000" stroke-width="1.7" rx="0" />
<line x1="599.75" y1="658.00" x2="599.75" y2="667.00" stroke="#000" stroke-width="1.8" stroke-linecap="butt"/>
<line x1="597.25" y1="658.90" x2="602.25" y2="658.90" stroke="#000" stroke-width="1.9" stroke-linecap="butt"/>
<rect x="618.30" y="587.40" width="12.80" height="103.00" fill="#000" stroke="none" stroke-width="1" rx="0" />
<line x1="624.70" y1="579.30" x2="624.70" y2="587.90" stroke="#000" stroke-width="1.8" stroke-linecap="butt"/>
<line x1="622.20" y1="580.20" x2="627.20" y2="580.20" stroke="#000" stroke-width="1.9" stroke-linecap="butt"/>
<rect x="631.20" y="635.80" width="9.95" height="54.60" fill="#fff" stroke="#000" stroke-width="1.7" rx="0" />
<line x1="636.15" y1="629.80" x2="636.15" y2="636.40" stroke="#000" stroke-width="1.8" stroke-linecap="butt"/>
<line x1="633.65" y1="630.70" x2="638.65" y2="630.70" stroke="#000" stroke-width="1.9" stroke-linecap="butt"/>
<rect x="654.90" y="525.10" width="12.90" height="165.30" fill="#000" stroke="none" stroke-width="1" rx="0" />
<line x1="661.35" y1="514.30" x2="661.35" y2="525.60" stroke="#000" stroke-width="1.8" stroke-linecap="butt"/>
<line x1="658.85" y1="515.20" x2="663.85" y2="515.20" stroke="#000" stroke-width="1.9" stroke-linecap="butt"/>
<rect x="667.90" y="593.30" width="10.45" height="97.10" fill="#fff" stroke="#000" stroke-width="1.7" rx="0" />
<line x1="673.10" y1="583.30" x2="673.10" y2="593.90" stroke="#000" stroke-width="1.8" stroke-linecap="butt"/>
<line x1="670.60" y1="584.20" x2="675.60" y2="584.20" stroke="#000" stroke-width="1.9" stroke-linecap="butt"/>
<text x="636.40" y="631.80" text-anchor="middle" style="font-size:18.5px;" stroke="#000" stroke-width="0.4">*</text>
<text x="672.80" y="584.50" text-anchor="middle" style="font-size:18.5px;" stroke="#000" stroke-width="0.4">*</text>
<text x="435.60" y="711.00" style="font-size:14px;font-weight:bold;" >UVB</text>
<text x="482.20" y="711.00" text-anchor="middle" style="font-size:14px;font-weight:bold;" >0</text>
<text x="518.60" y="711.00" text-anchor="middle" style="font-size:14px;font-weight:bold;" >10</text>
<text x="555.00" y="711.00" text-anchor="middle" style="font-size:14px;font-weight:bold;" >30</text>
<text x="589.70" y="711.00" text-anchor="middle" style="font-size:14px;font-weight:bold;" >0</text>
<text x="632.80" y="711.00" text-anchor="middle" style="font-size:14px;font-weight:bold;" >10</text>
<text x="668.40" y="711.00" text-anchor="middle" style="font-size:14px;font-weight:bold;" >30</text>
<text x="689.40" y="710.40" style="font-size:14.2px;font-weight:bold;" >(mJ/cm<tspan dy="-4.2" style="font-size:10.2px">2</tspan><tspan dy="4.2">)</tspan></text>
<line x1="587.70" y1="715.90" x2="681.00" y2="715.90" stroke="#000" stroke-width="2.0" stroke-linecap="butt"/>
<text x="633.50" y="734.90" text-anchor="middle" style="font-size:14px;font-weight:bold;" >LPS</text>
</g>
<g id="panel-e">
<line x1="56.50" y1="761.40" x2="56.50" y2="947.70" stroke="#000" stroke-width="2.2" stroke-linecap="butt"/>
<line x1="54.10" y1="762.10" x2="56.50" y2="762.10" stroke="#000" stroke-width="1.5" stroke-linecap="butt"/>
<text x="48.50" y="765.53" text-anchor="end" style="font-size:9.8px;font-weight:bold;" >250</text>
<line x1="54.10" y1="799.06" x2="56.50" y2="799.06" stroke="#000" stroke-width="1.5" stroke-linecap="butt"/>
<text x="48.50" y="802.49" text-anchor="end" style="font-size:9.8px;font-weight:bold;" >200</text>
<line x1="54.10" y1="836.02" x2="56.50" y2="836.02" stroke="#000" stroke-width="1.5" stroke-linecap="butt"/>
<text x="48.50" y="839.45" text-anchor="end" style="font-size:9.8px;font-weight:bold;" >150</text>
<line x1="54.10" y1="872.98" x2="56.50" y2="872.98" stroke="#000" stroke-width="1.5" stroke-linecap="butt"/>
<text x="48.50" y="876.41" text-anchor="end" style="font-size:9.8px;font-weight:bold;" >100</text>
<line x1="54.10" y1="909.94" x2="56.50" y2="909.94" stroke="#000" stroke-width="1.5" stroke-linecap="butt"/>
<text x="48.50" y="913.37" text-anchor="end" style="font-size:9.8px;font-weight:bold;" >50</text>
<line x1="54.10" y1="946.90" x2="56.50" y2="946.90" stroke="#000" stroke-width="1.5" stroke-linecap="butt"/>
<text x="48.50" y="950.33" text-anchor="end" style="font-size:9.8px;font-weight:bold;" >0</text>
<line x1="55.70" y1="946.90" x2="312.30" y2="946.90" stroke="#000" stroke-width="2.1" stroke-linecap="butt"/>
<line x1="107.40" y1="946.90" x2="107.40" y2="949.90" stroke="#000" stroke-width="1.3" stroke-linecap="butt"/>
<line x1="158.80" y1="946.90" x2="158.80" y2="949.90" stroke="#000" stroke-width="1.3" stroke-linecap="butt"/>
<line x1="210.00" y1="946.90" x2="210.00" y2="949.90" stroke="#000" stroke-width="1.3" stroke-linecap="butt"/>
<line x1="260.80" y1="946.90" x2="260.80" y2="949.90" stroke="#000" stroke-width="1.3" stroke-linecap="butt"/>
<text transform="translate(22.00,900.20) rotate(-90) scale(1.115,1)" style="font-size:13px;font-weight:bold;">IL-1<tspan style="font-weight:normal">β</tspan> (pg/mL)</text>
<rect x="68.10" y="744.50" width="109.70" height="50.50" fill="#fff" stroke="#000" stroke-width="1.9" rx="0" />
<line x1="72.80" y1="757.90" x2="104.90" y2="757.90" stroke="#000" stroke-width="2.0" stroke-linecap="butt"/>
<circle cx="89.1" cy="757.9" r="4.5" fill="#000"/>
<line x1="72.80" y1="778.60" x2="104.90" y2="778.60" stroke="#000" stroke-width="2.0" stroke-linecap="butt"/>
<circle cx="89.1" cy="778.6" r="3.5" fill="#fff" stroke="#000" stroke-width="2"/>
<text x="114.00" y="762.60" style="font-size:14px;font-weight:bold;" >WT</text>
<text x="114.40" y="785.80" style="font-size:14px;font-weight:bold;font-style:italic;" >Parp-1<tspan dy="-5.8" style="font-size:13px;letter-spacing:0.7px;">-/-</tspan></text>
<polyline points="107.4,930.4 158.7,840.0 209.5,811.6 260.9,800.3" fill="none" stroke="#000" stroke-width="2.0"/>
<polyline points="107.4,924.8 158.7,877.1 209.5,859.7 260.9,830.0" fill="none" stroke="#000" stroke-width="2.0"/>
<line x1="107.40" y1="930.40" x2="107.40" y2="937.40" stroke="#000" stroke-width="1.8" stroke-linecap="butt"/>
<line x1="104.90" y1="936.70" x2="109.90" y2="936.70" stroke="#000" stroke-width="1.8" stroke-linecap="butt"/>
<line x1="158.70" y1="816.60" x2="158.70" y2="863.80" stroke="#000" stroke-width="1.8" stroke-linecap="butt"/>
<line x1="156.00" y1="817.30" x2="161.40" y2="817.30" stroke="#000" stroke-width="1.8" stroke-linecap="butt"/>
<line x1="156.00" y1="863.10" x2="161.40" y2="863.10" stroke="#000" stroke-width="1.8" stroke-linecap="butt"/>
<line x1="209.50" y1="795.80" x2="209.50" y2="828.40" stroke="#000" stroke-width="1.8" stroke-linecap="butt"/>
<line x1="206.80" y1="796.50" x2="212.20" y2="796.50" stroke="#000" stroke-width="1.8" stroke-linecap="butt"/>
<line x1="206.80" y1="827.70" x2="212.20" y2="827.70" stroke="#000" stroke-width="1.8" stroke-linecap="butt"/>
<line x1="260.90" y1="786.50" x2="260.90" y2="814.10" stroke="#000" stroke-width="1.8" stroke-linecap="butt"/>
<line x1="258.20" y1="787.20" x2="263.60" y2="787.20" stroke="#000" stroke-width="1.8" stroke-linecap="butt"/>
<line x1="258.20" y1="813.40" x2="263.60" y2="813.40" stroke="#000" stroke-width="1.8" stroke-linecap="butt"/>
<line x1="158.70" y1="866.60" x2="158.70" y2="886.50" stroke="#000" stroke-width="1.8" stroke-linecap="butt"/>
<line x1="156.00" y1="867.30" x2="161.40" y2="867.30" stroke="#000" stroke-width="1.8" stroke-linecap="butt"/>
<line x1="156.00" y1="885.80" x2="161.40" y2="885.80" stroke="#000" stroke-width="1.8" stroke-linecap="butt"/>
<line x1="209.50" y1="848.10" x2="209.50" y2="872.00" stroke="#000" stroke-width="1.8" stroke-linecap="butt"/>
<line x1="206.80" y1="848.80" x2="212.20" y2="848.80" stroke="#000" stroke-width="1.8" stroke-linecap="butt"/>
<line x1="206.80" y1="871.30" x2="212.20" y2="871.30" stroke="#000" stroke-width="1.8" stroke-linecap="butt"/>
<line x1="260.90" y1="819.60" x2="260.90" y2="839.70" stroke="#000" stroke-width="1.8" stroke-linecap="butt"/>
<line x1="258.20" y1="820.30" x2="263.60" y2="820.30" stroke="#000" stroke-width="1.8" stroke-linecap="butt"/>
<line x1="258.20" y1="839.00" x2="263.60" y2="839.00" stroke="#000" stroke-width="1.8" stroke-linecap="butt"/>
<circle cx="107.4" cy="930.4" r="4.5" fill="#000"/>
<circle cx="158.7" cy="840.0" r="4.5" fill="#000"/>
<circle cx="209.5" cy="811.6" r="4.5" fill="#000"/>
<circle cx="260.9" cy="800.3" r="4.5" fill="#000"/>
<circle cx="107.4" cy="924.8" r="3.5" fill="#fff" stroke="#000" stroke-width="2"/>
<circle cx="158.7" cy="877.1" r="3.5" fill="#fff" stroke="#000" stroke-width="2"/>
<circle cx="209.5" cy="859.7" r="3.5" fill="#fff" stroke="#000" stroke-width="2"/>
<circle cx="260.9" cy="830.0" r="3.5" fill="#fff" stroke="#000" stroke-width="2"/>
<text x="210.50" y="891.20" text-anchor="middle" style="font-size:18.5px;" stroke="#000" stroke-width="0.4">*</text>
<text x="261.50" y="860.60" text-anchor="middle" style="font-size:18.5px;" stroke="#000" stroke-width="0.4">*</text>
<text x="44.40" y="969.50" style="font-size:14px;font-weight:bold;" >UVB</text>
<text x="105.30" y="969.50" text-anchor="middle" style="font-size:14px;font-weight:bold;" >0</text>
<text x="156.80" y="969.50" text-anchor="middle" style="font-size:14px;font-weight:bold;" >3</text>
<text x="207.90" y="969.50" text-anchor="middle" style="font-size:14px;font-weight:bold;" >6</text>
<text x="258.80" y="969.50" text-anchor="middle" style="font-size:14px;font-weight:bold;" >9</text>
<text x="285.20" y="968.20" style="font-size:14px;font-weight:bold;" >(h)</text>
</g>
<g id="panel-f">
<line x1="447.70" y1="759.40" x2="447.70" y2="945.40" stroke="#000" stroke-width="2.2" stroke-linecap="butt"/>
<line x1="445.30" y1="760.10" x2="447.70" y2="760.10" stroke="#000" stroke-width="1.5" stroke-linecap="butt"/>
<text x="439.90" y="763.23" text-anchor="end" style="font-size:9.8px;font-weight:bold;" >250</text>
<line x1="445.30" y1="797.00" x2="447.70" y2="797.00" stroke="#000" stroke-width="1.5" stroke-linecap="butt"/>
<text x="439.90" y="800.13" text-anchor="end" style="font-size:9.8px;font-weight:bold;" >200</text>
<line x1="445.30" y1="833.90" x2="447.70" y2="833.90" stroke="#000" stroke-width="1.5" stroke-linecap="butt"/>
<text x="439.90" y="837.03" text-anchor="end" style="font-size:9.8px;font-weight:bold;" >150</text>
<line x1="445.30" y1="870.80" x2="447.70" y2="870.80" stroke="#000" stroke-width="1.5" stroke-linecap="butt"/>
<text x="439.90" y="873.93" text-anchor="end" style="font-size:9.8px;font-weight:bold;" >100</text>
<line x1="445.30" y1="907.70" x2="447.70" y2="907.70" stroke="#000" stroke-width="1.5" stroke-linecap="butt"/>
<text x="439.90" y="910.83" text-anchor="end" style="font-size:9.8px;font-weight:bold;" >50</text>
<line x1="445.30" y1="944.60" x2="447.70" y2="944.60" stroke="#000" stroke-width="1.5" stroke-linecap="butt"/>
<text x="439.90" y="947.73" text-anchor="end" style="font-size:9.8px;font-weight:bold;" >0</text>
<line x1="446.90" y1="945.00" x2="695.00" y2="945.00" stroke="#000" stroke-width="2.1" stroke-linecap="butt"/>
<text transform="translate(413.00,898.00) rotate(-90) scale(1.115,1)" style="font-size:13.3px;font-weight:bold;">IL-1<tspan style="font-weight:normal">β</tspan> (pg/mL)</text>
<rect x="468.30" y="762.90" width="101.70" height="47.40" fill="#fff" stroke="#000" stroke-width="1.9" rx="0" />
<rect x="472.40" y="771.90" width="34.40" height="7.10" fill="#000" stroke="none" stroke-width="1" rx="1.2" />
<rect x="473.20" y="792.10" width="32.80" height="5.70" fill="#fff" stroke="#000" stroke-width="1.8" rx="0.6" />
<text x="514.20" y="780.70" style="font-size:14px;font-weight:bold;" >WT</text>
<text x="514.20" y="801.70" style="font-size:14px;font-weight:bold;font-style:italic;" >Nlrp3<tspan dy="-3.6" style="font-size:13px;letter-spacing:0.7px;">-/-</tspan></text>
<rect x="471.70" y="936.70" width="11.80" height="7.90" fill="#000" stroke="none" stroke-width="1" rx="0" />
<line x1="477.60" y1="936.00" x2="477.60" y2="937.20" stroke="#000" stroke-width="1.8" stroke-linecap="butt"/>
<line x1="475.40" y1="936.90" x2="479.80" y2="936.90" stroke="#000" stroke-width="1.9" stroke-linecap="butt"/>
<rect x="483.60" y="937.30" width="10.25" height="7.30" fill="#fff" stroke="#000" stroke-width="1.7" rx="0" />
<line x1="488.70" y1="936.60" x2="488.70" y2="937.90" stroke="#000" stroke-width="1.8" stroke-linecap="butt"/>
<line x1="486.50" y1="937.50" x2="490.90" y2="937.50" stroke="#000" stroke-width="1.9" stroke-linecap="butt"/>
<rect x="506.80" y="934.90" width="11.80" height="9.70" fill="#000" stroke="none" stroke-width="1" rx="0" />
<line x1="512.70" y1="934.20" x2="512.70" y2="935.40" stroke="#000" stroke-width="1.8" stroke-linecap="butt"/>
<line x1="510.50" y1="935.10" x2="514.90" y2="935.10" stroke="#000" stroke-width="1.9" stroke-linecap="butt"/>
<rect x="518.70" y="932.00" width="10.25" height="12.60" fill="#fff" stroke="#000" stroke-width="1.7" rx="0" />
<line x1="523.80" y1="928.10" x2="523.80" y2="932.60" stroke="#000" stroke-width="1.8" stroke-linecap="butt"/>
<line x1="521.30" y1="929.00" x2="526.30" y2="929.00" stroke="#000" stroke-width="1.9" stroke-linecap="butt"/>
<rect x="542.30" y="934.60" width="11.70" height="10.00" fill="#000" stroke="none" stroke-width="1" rx="0" />
<line x1="548.15" y1="933.60" x2="548.15" y2="935.10" stroke="#000" stroke-width="1.8" stroke-linecap="butt"/>
<line x1="545.95" y1="934.50" x2="550.35" y2="934.50" stroke="#000" stroke-width="1.9" stroke-linecap="butt"/>
<rect x="554.10" y="934.80" width="10.55" height="9.80" fill="#fff" stroke="#000" stroke-width="1.7" rx="0" />
<line x1="559.35" y1="933.80" x2="559.35" y2="935.40" stroke="#000" stroke-width="1.8" stroke-linecap="butt"/>
<line x1="557.15" y1="934.70" x2="561.55" y2="934.70" stroke="#000" stroke-width="1.9" stroke-linecap="butt"/>
<rect x="577.70" y="916.80" width="12.00" height="27.80" fill="#000" stroke="none" stroke-width="1" rx="0" />
<line x1="583.70" y1="910.00" x2="583.70" y2="917.30" stroke="#000" stroke-width="1.8" stroke-linecap="butt"/>
<line x1="581.20" y1="910.90" x2="586.20" y2="910.90" stroke="#000" stroke-width="1.9" stroke-linecap="butt"/>
<rect x="589.80" y="940.40" width="9.85" height="4.20" fill="#fff" stroke="#000" stroke-width="1.7" rx="0" />
<rect x="613.10" y="844.80" width="12.00" height="99.80" fill="#000" stroke="none" stroke-width="1" rx="0" />
<line x1="619.10" y1="839.00" x2="619.10" y2="845.30" stroke="#000" stroke-width="1.8" stroke-linecap="butt"/>
<line x1="616.60" y1="839.90" x2="621.60" y2="839.90" stroke="#000" stroke-width="1.9" stroke-linecap="butt"/>
<rect x="625.20" y="904.70" width="10.05" height="39.90" fill="#fff" stroke="#000" stroke-width="1.7" rx="0" />
<line x1="630.20" y1="896.60" x2="630.20" y2="905.30" stroke="#000" stroke-width="1.8" stroke-linecap="butt"/>
<line x1="627.70" y1="897.50" x2="632.70" y2="897.50" stroke="#000" stroke-width="1.9" stroke-linecap="butt"/>
<rect x="648.10" y="783.20" width="12.40" height="161.40" fill="#000" stroke="none" stroke-width="1" rx="0" />
<line x1="654.30" y1="780.50" x2="654.30" y2="783.70" stroke="#000" stroke-width="1.8" stroke-linecap="butt"/>
<line x1="651.80" y1="781.40" x2="656.80" y2="781.40" stroke="#000" stroke-width="1.9" stroke-linecap="butt"/>
<rect x="660.60" y="855.80" width="9.65" height="88.80" fill="#fff" stroke="#000" stroke-width="1.7" rx="0" />
<line x1="665.40" y1="842.50" x2="665.40" y2="856.40" stroke="#000" stroke-width="1.8" stroke-linecap="butt"/>
<line x1="662.90" y1="843.40" x2="667.90" y2="843.40" stroke="#000" stroke-width="1.9" stroke-linecap="butt"/>
<text x="630.40" y="896.70" text-anchor="middle" style="font-size:18.5px;" stroke="#000" stroke-width="0.4">*</text>
<text x="665.80" y="839.60" text-anchor="middle" style="font-size:18.5px;" stroke="#000" stroke-width="0.4">*</text>
<text x="432.80" y="964.90" style="font-size:14px;font-weight:bold;" >UVB</text>
<text x="480.50" y="965.50" text-anchor="middle" style="font-size:14px;font-weight:bold;" >0</text>
<text x="516.40" y="965.50" text-anchor="middle" style="font-size:14px;font-weight:bold;" >10</text>
<text x="551.70" y="965.50" text-anchor="middle" style="font-size:14px;font-weight:bold;" >30</text>
<text x="584.60" y="965.50" text-anchor="middle" style="font-size:14px;font-weight:bold;" >0</text>
<text x="620.40" y="965.50" text-anchor="middle" style="font-size:14px;font-weight:bold;" >10</text>
<text x="655.20" y="965.50" text-anchor="middle" style="font-size:14px;font-weight:bold;" >30</text>
<text x="679.40" y="964.90" style="font-size:14.2px;font-weight:bold;" >(mJ/cm<tspan dy="-4.2" style="font-size:10.2px">2</tspan><tspan dy="4.2">)</tspan></text>
<line x1="576.80" y1="969.80" x2="670.80" y2="969.80" stroke="#000" stroke-width="2.0" stroke-linecap="butt"/>
<text x="625.50" y="987.70" text-anchor="middle" style="font-size:14px;font-weight:bold;" >LPS</text>
</g>
</svg>
</body></html>
